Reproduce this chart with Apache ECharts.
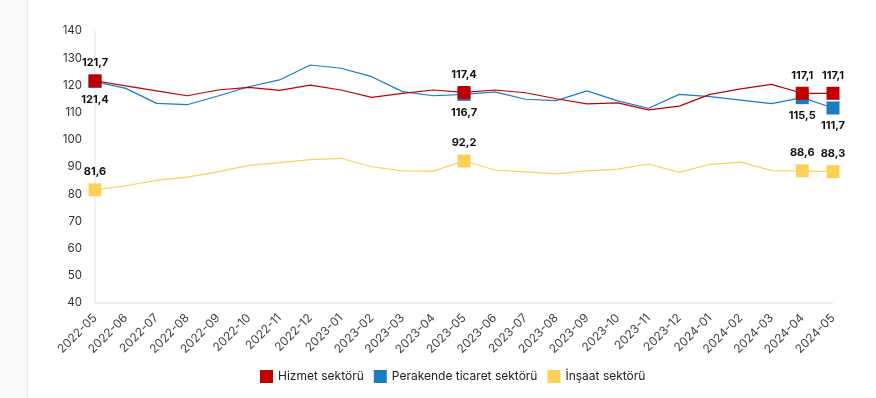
<!DOCTYPE html>
<html>
<head>
<meta charset="utf-8">
<script src="https://cdn.jsdelivr.net/npm/echarts@6/dist/echarts.min.js"></script>
<style>
  html, body { margin: 0; padding: 0; background: #fff; }
  #chart-container { width: 876px; height: 398px; }
</style>
</head>
<body>
<div id="chart-container"></div>
<script>
// aylar
var months = ['2022-05', '2022-06', '2022-07', '2022-08', '2022-09', '2022-10', '2022-11', '2022-12',
  '2023-01', '2023-02', '2023-03', '2023-04', '2023-05', '2023-06', '2023-07', '2023-08', '2023-09',
  '2023-10', '2023-11', '2023-12', '2024-01', '2024-02', '2024-03', '2024-04', '2024-05'];

// güven endeksleri
var hizmet = [121.7, 119.8, 118.0, 116.2, 118.3, 119.3, 118.2, 120.1, 118.3, 115.6, 117.1, 118.3, 117.4,
  118.3, 117.3, 115.1, 113.2, 113.6, 111.0, 112.4, 116.7, 118.7, 120.4, 117.1, 117.1];
var perakende = [121.4, 118.9, 113.4, 112.9, 116.1, 119.5, 122.0, 127.5, 126.3, 123.2, 117.7, 116.2, 116.7,
  117.6, 114.9, 114.4, 118.0, 114.3, 111.6, 116.7, 115.9, 114.6, 113.3, 115.5, 111.7];
var insaat = [81.6, 83.1, 85.1, 86.3, 88.2, 90.6, 91.6, 92.7, 93.2, 90.1, 88.6, 88.5, 92.2,
  88.9, 88.2, 87.5, 88.6, 89.2, 91.1, 88.0, 91.0, 91.8, 88.7, 88.6, 88.3];

// işaretli noktalar
var markedIdx = [0, 12, 23, 24];

var container = document.getElementById('chart-container');
var myChart = echarts.init(container);

function buildData(values, labelPos) {
    return values.map(function (v, i) {
        if (markedIdx.indexOf(i) < 0) return v;
        return {
            value: v,
            symbol: 'rect',
            symbolSize: 13,
            label: { show: true, position: labelPos }
        };
    });
}

function makeSeries(name, color, values, labelPos, z) {
    return {
        name: name,
        type: 'line',
        data: buildData(values, labelPos),
        symbol: 'none',
        showAllSymbol: true,
        z: z,
        lineStyle: { color: color, width: 1.2 },
        itemStyle: { color: color },
        label: {
            show: false,
            color: '#111',
            fontWeight: 'bold',
            fontSize: 11,
            fontFamily: 'Inter',
            distance: 6,
            formatter: function (p) {
                return p.value.toFixed(1).replace('.', ',');
            }
        }
    };
}

myChart.setOption({
    animation: false,
    textStyle: { fontFamily: 'Inter' },
    graphic: [
        { type: 'rect', shape: { x: 0, y: 0, width: 27, height: 398 }, style: { fill: '#fafafa' }, silent: true },
        { type: 'line', shape: { x1: 27.5, y1: 0, x2: 27.5, y2: 398 }, style: { stroke: '#e8e8e8', lineWidth: 1 }, silent: true }
    ],
    grid: { left: 95, right: 43, top: 31, bottom: 95 },
    legend: {
        top: 365,
        left: 255,
        itemWidth: 13,
        itemHeight: 13,
        itemGap: 10,
        icon: 'rect',
        textStyle: { color: '#222', fontSize: 12, fontFamily: 'Inter' },
        data: ['Hizmet sektörü', 'Perakende ticaret sektörü', 'İnşaat sektörü']
    },
    xAxis: {
        type: 'category',
        data: months,
        boundaryGap: false,
        axisLine: { lineStyle: { color: '#eeeeee', width: 1.5 } },
        axisTick: { show: false },
        axisLabel: { rotate: 45, color: '#444', fontSize: 12, margin: 13, interval: 0 }
    },
    yAxis: {
        type: 'value',
        min: 40,
        max: 140,
        interval: 10,
        axisLine: { show: true, lineStyle: { color: '#eeeeee', width: 1.5 } },
        axisTick: { show: false },
        splitLine: { show: false },
        axisLabel: { color: '#333', fontSize: 11.5, margin: 13 }
    },
    series: [
        makeSeries('İnşaat sektörü', '#fdd05a', insaat, 'top', 2),
        makeSeries('Perakende ticaret sektörü', '#1a7dc4', perakende, 'bottom', 3),
        makeSeries('Hizmet sektörü', '#c00000', hizmet, 'top', 4)
    ]
});
</script>
</body>
</html>
